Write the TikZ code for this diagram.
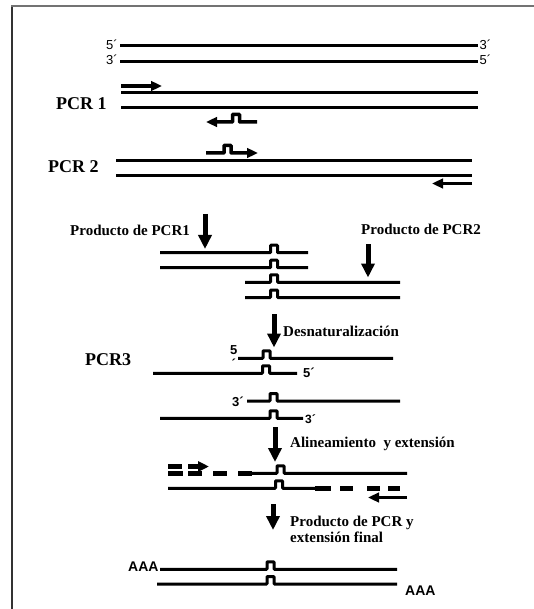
\documentclass[tikz,border=0pt]{standalone}
\usepackage{fontspec}
\setmainfont{Liberation Serif}
\newfontfamily\arialf{Liberation Sans}
\usetikzlibrary{arrows.meta}
\newcommand\bumpstrand[4]{\draw[strand, rounded corners=0.7pt] (#1,#4) -- (#3-3.5,#4) -- ++(0,-7.5) -- ++(7,0) -- ++(0,7.5) -- (#2,#4);}
\begin{document}
\begin{tikzpicture}[x=1pt,y=-1pt,
  strand/.style={line width=3pt},
  dashseg/.style={line width=4.5pt},
  primer/.style={line width=3.5pt,-{Triangle[length=11pt,width=9.5pt]}},
  bigarrow/.style={line width=5pt,-{Triangle[length=14pt,width=13pt]}},
  lbl/.style={font=\fontsize{15}{17}\selectfont\bfseries, inner sep=0pt, anchor=base west},
  pcrlbl/.style={font=\fontsize{18}{20}\selectfont\bfseries, inner sep=0pt, anchor=base west},
  prime/.style={font=\arialf\fontsize{13}{14}\selectfont, inner sep=0pt},
  bprime/.style={font=\arialf\bfseries\fontsize{13}{14}\selectfont, inner sep=0pt, anchor=base west},
  aaa/.style={font=\arialf\bfseries\fontsize{14}{15}\selectfont, inner sep=0pt, anchor=base west}]
\useasboundingbox (0,0) rectangle (534,609);
% frame
\draw[line width=1.5pt, black!80] (12,609) -- (12,6);
\draw[line width=1.5pt, black!55] (11.25,6) -- (534,6);

% top duplex
\draw[strand] (120,46) -- (478,46);
\draw[strand] (120,61.5) -- (478,61.5);
\node[prime, anchor=east] (l5a) at (118,44.5) {5´};
\node[prime, anchor=east] (l3a) at (118,60) {3´};
\node[prime, anchor=west] (r3a) at (479.5,44.5) {3´};
\node[prime, anchor=west] (r5a) at (479.5,60) {5´};

% PCR 1
\node[pcrlbl] (pcr1) at (56,110) {PCR 1};
\coordinate (p1s) at (121,86);
\coordinate (p1e) at (162,86);
\draw[primer] (p1s) -- (p1e);
\draw[strand] (121,93) -- (478,93);
\draw[strand] (121,108) -- (478,108);
\coordinate (r1s) at (257,122);
\coordinate (r1e) at (206,122);
\draw[primer, rounded corners=0.7pt] (r1s) -- (239.5,122) -- ++(0,-7.5) -- ++(-7,0) -- ++(0,7.5) -- (r1e);

% PCR 2
\node[pcrlbl] (pcr2) at (48,173) {PCR 2};
\coordinate (f2s) at (206,153);
\coordinate (f2e) at (258,153);
\draw[primer, rounded corners=0.7pt] (f2s) -- (224,153) -- ++(0,-7.5) -- ++(7,0) -- ++(0,7.5) -- (f2e);
\draw[strand] (116,161) -- (472,161);
\draw[strand] (116,176) -- (472,176);
\coordinate (r2s) at (472,183.5);
\coordinate (r2e) at (432,183.5);
\draw[primer] (r2s) -- (r2e);

% products
\node[lbl] (prod1) at (70,235.5) {Producto de PCR1};
\node[lbl] (prod2) at (361,235) {Producto de PCR2};
\coordinate (a1s) at (205,214);
\coordinate (a1e) at (205,249);
\draw[bigarrow] (a1s) -- (a1e);
\coordinate (a2s) at (368,244);
\coordinate (a2e) at (368,277.5);
\draw[bigarrow] (a2s) -- (a2e);
\bumpstrand{160}{308}{274}{252.7}
\bumpstrand{160}{308}{274}{267.7}
\bumpstrand{245}{400}{274}{282.3}
\bumpstrand{245}{400}{274}{297.5}

% denaturation
\coordinate (a3s) at (274,314);
\coordinate (a3e) at (274,347.5);
\draw[bigarrow] (a3s) -- (a3e);
\node[lbl] (den) at (283,336) {Desnaturalización};

% PCR3
\node[pcrlbl] (pcr3) at (85,365.5) {PCR3};
\bumpstrand{238}{393}{266.5}{358.3}
\bumpstrand{153}{297}{266}{373.3}
\bumpstrand{247}{400}{273.5}{401}
\bumpstrand{160}{303}{273.5}{418.3}
\node[bprime] (s1l) at (230,354.5) {5};
\node[bprime] (s1t) at (231.5,368.5) {´};
\node[bprime] (s2r) at (303,377) {5´};
\node[bprime] (s3l) at (232,406.5) {3´};
\node[bprime, font=\arialf\bfseries\fontsize{12}{13}\selectfont] (s4r) at (305,423.3) {3´};

% alignment
\coordinate (a4s) at (275,427);
\coordinate (a4e) at (275,462);
\draw[bigarrow] (a4s) -- (a4e);
\node[lbl] (ali) at (290,447) {Alineamiento\ \ y extensión};
\draw[dashseg] (168,466.5) -- (182,466.5);
\coordinate (f3s) at (188,466.5);
\coordinate (f3e) at (209,466.5);
\draw[line width=4.5pt,-{Triangle[length=11pt,width=10pt]}] (f3s) -- (f3e);
\draw[dashseg] (168,473.3) -- (183,473.3);
\draw[dashseg] (188,473.3) -- (202,473.3);
\draw[dashseg] (213,473.3) -- (227,473.3);
\draw[dashseg] (238,473.3) -- (252,473.3);
\bumpstrand{250}{407}{280.5}{473.3}
\bumpstrand{168}{315}{279}{488.3}
\draw[dashseg] (315,488.3) -- (331,488.3);
\draw[dashseg] (340,488.3) -- (353,488.3);
\draw[dashseg] (367,488.3) -- (380,488.3);
\draw[dashseg] (388,488.3) -- (400,488.3);
\coordinate (r3s) at (407,497.5);
\coordinate (r3e) at (368,497.5);
\draw[primer] (r3s) -- (r3e);

% final product
\coordinate (a5s) at (273,504);
\coordinate (a5e) at (273,530);
\draw[bigarrow] (a5s) -- (a5e);
\node[lbl] (fin1) at (290,526) {Producto de PCR y};
\node[lbl] (fin2) at (290,542) {extensión final};
\bumpstrand{160}{397}{270.5}{569.3}
\bumpstrand{157}{397}{270.5}{584}
\node[aaa] (aaal) at (128,571.7) {AAA};
\node[aaa] (aaar) at (405,595) {AAA};
\end{tikzpicture}
\end{document}
